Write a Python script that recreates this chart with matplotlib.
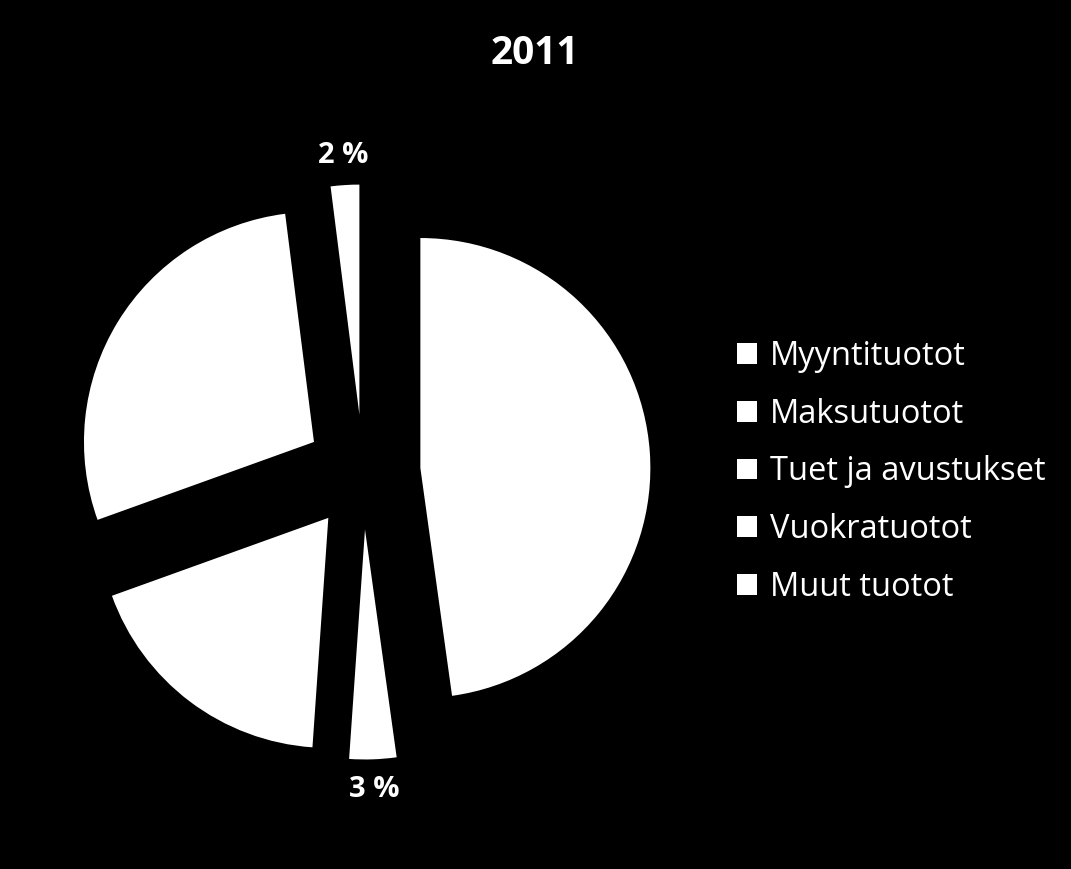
import matplotlib
matplotlib.use("Agg")
import matplotlib.pyplot as plt

title = "2011"
categories = ["Myyntituotot", "Maksutuotot", "Tuet ja avustukset", "Vuokratuotot", "Muut tuotot"]
values = [47.8, 3.3, 18.4, 28.5, 2.0]

plt.rcParams['font.family'] = ['Open Sans', 'DejaVu Sans']

W, H = 1071, 869
fig = plt.figure(figsize=(W / 100, H / 100), dpi=100, facecolor='black')

cx, cy, r = 363, 472, 230
span = 1.5
ax = fig.add_axes([(cx - span * r) / W, (H - cy - span * r) / H, 2 * span * r / W, 2 * span * r / H])
ax.set_facecolor('black')

def fmt(p):
    return f"{p:.0f} %" if p < 5 else ""

wedges, texts, autotexts = ax.pie(
    values, startangle=90, counterclock=False,
    explode=[0.25] * len(values), colors=['white'] * len(values),
    autopct=fmt, pctdistance=1.13,
    textprops=dict(color='white', fontsize=21, fontweight='bold'),
    wedgeprops=dict(linewidth=0))
ax.set_xlim(-span, span)
ax.set_ylim(-span, span)
ax.set_aspect('equal')
ax.axis('off')

fig.text(535 / W, 1 - 53 / H, title, ha='center', va='center', color='white',
         fontsize=28, fontweight='bold')

leg = fig.legend(wedges, categories, loc='center left', bbox_to_anchor=(737 / W, 1 - 472 / H),
                 frameon=False, fontsize=23.5, labelcolor='white',
                 handlelength=0.6, handleheight=0.6, handletextpad=0.4,
                 labelspacing=0.76, borderaxespad=0, borderpad=0)

fig.savefig("out.png", dpi=100, facecolor='black')
